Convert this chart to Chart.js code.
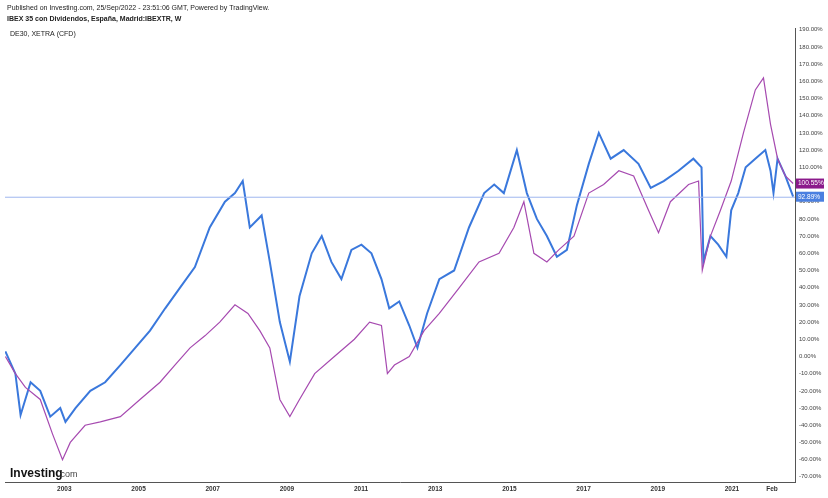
<!DOCTYPE html>
<html>
<head>
<meta charset="utf-8">
<script src="https://cdn.jsdelivr.net/npm/chart.js@4/dist/chart.umd.min.js"></script>
<style>
  body { margin: 0; background: #fff; }
  canvas { display: block; }
</style>
</head>
<body>
<canvas id="chart" width="828" height="498"></canvas>
<script>
// IBEX 35 con dividendos (blue), % change, decimal years
const ibexDates = [2001.41, 2001.68, 2001.82, 2002.09, 2002.35, 2002.62, 2002.89, 2003.03, 2003.30, 2003.70,
  2004.10, 2004.51, 2004.91, 2005.31, 2005.72, 2006.12, 2006.52, 2006.92, 2007.33, 2007.60, 2007.81,
  2008.0, 2008.32, 2008.54, 2008.81, 2009.08, 2009.34, 2009.67, 2009.94, 2010.20, 2010.47, 2010.74,
  2011.01, 2011.28, 2011.55, 2011.76, 2012.03, 2012.30, 2012.52, 2012.78, 2013.11, 2013.51, 2013.91,
  2014.32, 2014.59, 2014.85, 2015.20, 2015.47, 2015.74, 2016.01, 2016.28, 2016.55, 2016.82, 2017.14,
  2017.41, 2017.73, 2018.08, 2018.48, 2018.81, 2019.16, 2019.56, 2019.96, 2020.18, 2020.23, 2020.42,
  2020.63, 2020.85, 2020.98, 2021.17, 2021.37, 2021.63, 2021.90, 2022.04, 2022.12, 2022.23, 2022.44, 2022.65];
const ibexValues = [3, -10, -34, -15, -20, -35, -30, -38, -30, -20,
  -15, -5, 5, 15, 28, 40, 52, 75, 90, 95, 102,
  75, 82, 55, 20, -3, 35, 60, 70, 55, 45, 62,
  65, 60, 45, 28, 32, 18, 5, 25, 45, 50, 75,
  95, 100, 95, 120, 95, 80, 70, 58, 62, 88, 112,
  130, 115, 120, 112, 98, 102, 108, 115, 110, 55, 70,
  65, 58, 85, 95, 110, 115, 120, 108, 95, 115, 105, 92.89];

// DE30 XETRA (purple), % change
const daxDates = [2001.41, 2001.68, 2001.95, 2002.35, 2002.68, 2002.95, 2003.16, 2003.56, 2003.97, 2004.51,
  2005.04, 2005.58, 2005.98, 2006.39, 2006.79, 2007.19, 2007.60, 2007.95, 2008.27, 2008.54, 2008.81,
  2009.08, 2009.34, 2009.75, 2010.28, 2010.82, 2011.23, 2011.55, 2011.71, 2011.90, 2012.30, 2012.70,
  2013.11, 2013.65, 2014.18, 2014.72, 2015.12, 2015.39, 2015.66, 2016.01, 2016.33, 2016.74, 2017.14,
  2017.54, 2017.95, 2018.35, 2018.75, 2019.02, 2019.34, 2019.83, 2020.10, 2020.20, 2020.42, 2020.69,
  2020.98, 2021.31, 2021.63, 2021.85, 2022.04, 2022.23, 2022.44, 2022.65];
const daxValues = [0, -10, -18, -25, -45, -60, -50, -40, -38, -35,
  -25, -15, -5, 5, 12, 20, 30, 25, 15, 5, -25,
  -35, -25, -10, 0, 10, 20, 18, -10, -5, 0, 15,
  25, 40, 55, 60, 75, 90, 60, 55, 62, 70, 95,
  100, 108, 105, 85, 72, 90, 100, 102, 50, 70, 85,
  102, 130, 155, 162, 135, 115, 105, 100.55];

const yearTicks = [2003, 2005, 2007, 2009, 2011, 2013, 2015, 2017, 2019, 2021, 2022.08];
const yearLabels = ['2003', '2005', '2007', '2009', '2011', '2013', '2015', '2017', '2019', '2021', 'Feb'];
const pctTicks = [-70, -60, -50, -40, -30, -20, -10, 0, 10, 20, 30, 40, 50, 60, 70, 80, 90,
  100, 110, 120, 130, 140, 150, 160, 170, 180, 190];

const toPoints = (xs, ys) => xs.map((x, i) => ({ x: x, y: ys[i] }));

// header text, logo, last value tags
const overlay = {
  id: 'overlay',
  afterDraw(chart) {
    const c = chart.ctx;
    const y = chart.scales.y;
    const area = chart.chartArea;
    c.save();
    c.fillStyle = '#222';
    c.font = '7px "Liberation Sans", Arial';
    c.fillText('Published on Investing.com, 25/Sep/2022 - 23:51:06 GMT, Powered by TradingView.', 7, 10);
    c.font = 'bold 7px "Liberation Sans", Arial';
    c.fillText('IBEX 35 con Dividendos, España, Madrid:IBEXTR, W', 7, 21);
    c.font = '7px "Liberation Sans", Arial';
    c.fillText('DE30, XETRA (CFD)', 10, 36);
    c.font = 'bold 12px "Liberation Sans", Arial';
    c.fillStyle = '#111';
    c.fillText('Investing', 10, 477);
    c.font = '9px "Liberation Sans", Arial';
    c.fillStyle = '#444';
    c.fillText('.com', 58, 477);

    // horizontal price line
    const yb = y.getPixelForValue(92.89);
    c.strokeStyle = '#9fb6ef';
    c.lineWidth = 1;
    c.beginPath();
    c.moveTo(area.left, yb + 0.5);
    c.lineTo(area.right, yb + 0.5);
    c.stroke();

    const tag = (val, color, text) => {
      const py = y.getPixelForValue(val);
      c.fillStyle = color;
      c.fillRect(area.right + 1, py - 5, 28, 10);
      c.fillStyle = '#fff';
      c.font = '6.5px "Liberation Sans", Arial';
      c.textBaseline = 'middle';
      c.fillText(text, area.right + 3, py);
    };
    tag(100.55, '#8b1a8b', '100.55%');
    tag(92.89, '#4a7fe0', '92.89%');
    c.restore();
  }
};

new Chart(document.getElementById('chart'), {
  type: 'line',
  data: {
    datasets: [
      {
        label: 'DE30',
        data: toPoints(daxDates, daxValues),
        borderColor: '#a64ab0',
        borderWidth: 1.2,
        pointRadius: 0,
        tension: 0
      },
      {
        label: 'IBEXTR',
        data: toPoints(ibexDates, ibexValues),
        borderColor: '#3a78dc',
        borderWidth: 2,
        pointRadius: 0,
        tension: 0
      }
    ]
  },
  options: {
    responsive: false,
    animation: false,
    layout: { padding: { left: 5, top: 28, right: 0, bottom: 0 } },
    plugins: { legend: { display: false }, tooltip: { enabled: false } },
    scales: {
      x: {
        type: 'linear',
        min: 2001.4,
        max: 2022.7,
        grid: { display: false, drawTicks: true, tickLength: 3 },
        border: { color: '#555' },
        afterBuildTicks: (axis) => { axis.ticks = yearTicks.map(v => ({ value: v })); },
        afterFit: (axis) => { axis.height = 16; },
        ticks: {
          autoSkip: false,
          maxRotation: 0,
          padding: 0,
          color: '#333',
          font: { size: 6.5, weight: 'bold', family: '"Liberation Sans", Arial' },
          callback: (v) => yearLabels[yearTicks.indexOf(v)]
        }
      },
      y: {
        position: 'right',
        min: -73,
        max: 191,
        grid: { display: false, tickLength: 3 },
        border: { color: '#555' },
        afterBuildTicks: (axis) => { axis.ticks = pctTicks.map(v => ({ value: v })); },
        afterFit: (axis) => { axis.width = 33; },
        ticks: {
          autoSkip: false,
          color: '#444',
          padding: 1,
          font: { size: 6, family: '"Liberation Sans", Arial' },
          callback: (v) => v.toFixed(2) + '%'
        }
      }
    }
  },
  plugins: [overlay]
});
</script>
</body>
</html>
